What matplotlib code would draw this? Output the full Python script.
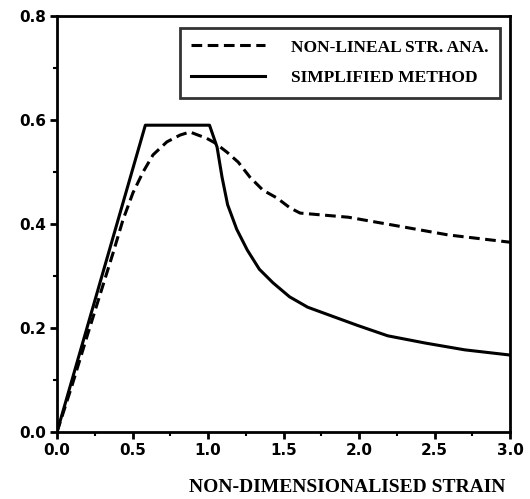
import matplotlib
matplotlib.use("Agg")
import matplotlib.pyplot as plt
from matplotlib.ticker import MultipleLocator, FormatStrFormatter

# Simplified method (solid)
simp_x = [0.0, 0.585, 1.01, 1.06, 1.093, 1.13, 1.19, 1.26, 1.34, 1.43, 1.54, 1.66,
          1.82, 1.99, 2.19, 2.44, 2.70, 3.0]
simp_y = [0.0, 0.59, 0.59, 0.548, 0.49, 0.437, 0.39, 0.35, 0.313, 0.287, 0.26, 0.24,
          0.223, 0.205, 0.185, 0.171, 0.158, 0.148]

# Non-lineal structural analysis (dashed)
nl_x = [0.0, 0.1, 0.2, 0.3, 0.371, 0.437, 0.503, 0.57, 0.636, 0.728, 0.815, 0.88,
        0.934, 0.99, 1.046, 1.126, 1.2, 1.278, 1.364, 1.457, 1.543, 1.61,
        1.93, 2.30, 2.59, 2.97, 3.0]
nl_y = [0.0, 0.09, 0.185, 0.278, 0.344, 0.408, 0.46, 0.5, 0.533, 0.558, 0.571, 0.577,
        0.571, 0.565, 0.556, 0.538, 0.519, 0.49, 0.465, 0.45, 0.431, 0.421,
        0.413, 0.394, 0.379, 0.366, 0.365]

xticks = [0.0, 0.5, 1.0, 1.5, 2.0, 2.5, 3.0]
yticks = [0.0, 0.2, 0.4, 0.6, 0.8]

fig = plt.figure(figsize=(5.30, 4.99), dpi=100)
ax = fig.add_axes([57 / 530, 1 - 432 / 499, (510 - 57) / 530, (432 - 16) / 499])

ax.plot(nl_x, nl_y, color="black", lw=2.2, ls=(0, (3.5, 1.8)), label="NON-LINEAL STR. ANA.")
ax.plot(simp_x, simp_y, color="black", lw=2.2, label="SIMPLIFIED METHOD")

ax.set_xlim(0, 3.0)
ax.set_ylim(0, 0.8)
ax.set_xticks(xticks)
ax.set_yticks(yticks)
ax.xaxis.set_minor_locator(MultipleLocator(0.25))
ax.yaxis.set_minor_locator(MultipleLocator(0.1))
ax.xaxis.set_major_formatter(FormatStrFormatter("%.1f"))
ax.yaxis.set_major_formatter(FormatStrFormatter("%.1f"))
ax.tick_params(which="major", direction="out", length=5, width=2, labelsize=11, pad=3)
ax.tick_params(which="minor", direction="out", length=3, width=1.5)
for lab in ax.get_xticklabels() + ax.get_yticklabels():
    lab.set_fontweight("bold")
    lab.set_family("DejaVu Sans")
for sp in ax.spines.values():
    sp.set_linewidth(2)

ax.set_xlabel("NON-DIMENSIONALISED STRAIN", family="Liberation Serif",
              fontweight="bold", fontsize=14)
ax.xaxis.set_label_coords(0.99, -0.112)
ax.xaxis.label.set_ha("right")

leg = ax.legend(loc="upper right", bbox_to_anchor=(0.978, 0.971),
                prop={"family": "Liberation Serif", "weight": "bold", "size": 12.5},
                frameon=True, fancybox=False, edgecolor="black", handlelength=4.25,
                handletextpad=1.5, borderpad=0.65, labelspacing=0.85, borderaxespad=0)
leg.get_frame().set_linewidth(2)

fig.savefig("out.png", dpi=100, facecolor="white")
